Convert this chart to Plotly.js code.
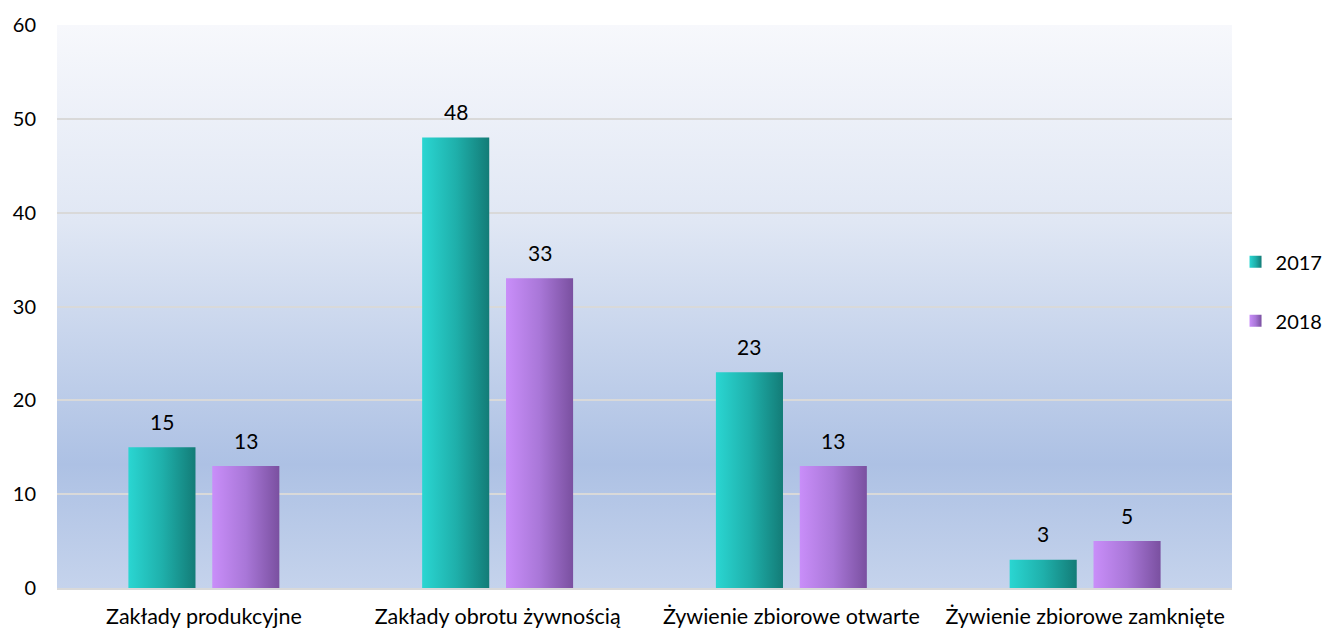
<!DOCTYPE html>
<html>
<head>
<meta charset="utf-8">
<script src="https://cdn.plot.ly/plotly-3.0.1.min.js"></script>
<style>
html,body{margin:0;padding:0;background:#fff;}
#chart{width:1330px;height:631px;}
</style>
</head>
<body>
<div id="chart"></div>
<script>
const categories = ["Zakłady produkcyjne", "Zakłady obrotu żywnością", "Żywienie zbiorowe otwarte", "Żywienie zbiorowe zamknięte"];
const values2017 = [15, 48, 23, 3];
const values2018 = [13, 33, 13, 5];
const seriesNames = ["2017", "2018"];
const yTicks = [0, 10, 20, 30, 40, 50, 60];

const FONT = "Lato, 'Noto Sans', sans-serif";
const FS = 21;

const traces = [
  {
    type: "bar", name: seriesNames[0], x: categories, y: values2017,
    marker: {color: "#1fb0ab"}, legendgroup: "a", hoverinfo: "x+y"
  },
  {
    type: "bar", name: seriesNames[1], x: categories, y: values2018,
    marker: {color: "#a574d6"}, legendgroup: "b", hoverinfo: "x+y"
  }
];

// data labels placed above each bar via annotations (offset left/right for the grouped bars)
const seriesVals = [values2017, values2018];
const xShifts = [-42, 42];
const annotations = [];
seriesVals.forEach((vals, s) => {
  vals.forEach((v, i) => {
    annotations.push({
      x: categories[i], y: v, xref: "x", yref: "y",
      text: String(v), showarrow: false,
      xshift: xShifts[s], yshift: 26, yanchor: "middle", xanchor: "center",
      font: {family: FONT, size: FS, color: "#000"}
    });
  });
});

const layout = {
  width: 1330, height: 631,
  margin: {l: 57, r: 98, t: 25, b: 43, pad: 0, autoexpand: false},
  paper_bgcolor: "#ffffff",
  plot_bgcolor: "#dde5f3",
  font: {family: FONT, size: FS, color: "#000"},
  barmode: "group",
  bargap: 0.429,
  bargroupgap: 0.2,
  showlegend: true,
  annotations: annotations,
  legend: {
    x: 1.003, xanchor: "left", y: 0.527, yanchor: "middle",
    font: {family: FONT, size: 20, color: "#000"},
    tracegroupgap: 30, bgcolor: "rgba(0,0,0,0)", itemwidth: 30
  },
  xaxis: {
    type: "category", showgrid: false, zeroline: false,
    showline: true, linecolor: "#d9d9d9", linewidth: 2,
    ticks: "", ticklabelstandoff: 8,
    tickfont: {family: FONT, size: 21.5, color: "#000"}
  },
  yaxis: {
    range: [0, 60], tickvals: yTicks, ticktext: yTicks.map(String),
    showgrid: true, gridcolor: "#d9d9d9", gridwidth: 2,
    zeroline: false, showline: false, ticks: "",
    ticklabelstandoff: 20,
    tickfont: {family: FONT, size: 20, color: "#000"}
  }
};

function addGradients(gd) {
  const svg = gd.querySelector("svg.main-svg");
  if (!svg) return;
  const NS = "http://www.w3.org/2000/svg";
  let defs = svg.querySelector("defs#customdefs");
  if (!defs) {
    defs = document.createElementNS(NS, "defs");
    defs.setAttribute("id", "customdefs");
    svg.insertBefore(defs, svg.firstChild);
    const mk = (id, stops, vertical) => {
      const g = document.createElementNS(NS, "linearGradient");
      g.setAttribute("id", id);
      g.setAttribute("x1", "0"); g.setAttribute("y1", "0");
      g.setAttribute("x2", vertical ? "0" : "1"); g.setAttribute("y2", vertical ? "1" : "0");
      stops.forEach(s => {
        const st = document.createElementNS(NS, "stop");
        st.setAttribute("offset", s[0]);
        st.setAttribute("stop-color", s[1]);
        g.appendChild(st);
      });
      defs.appendChild(g);
    };
    mk("gTeal", [["0", "#2ad6d2"], ["0.5", "#1fb0ab"], ["1", "#137c77"]], false);
    mk("gPurple", [["0", "#c98ef9"], ["0.5", "#a977d8"], ["1", "#7a50a0"]], false);
    mk("gBg", [["0", "#f7f8fc"], ["0.35", "#e0e7f4"], ["0.78", "#adc1e4"], ["1", "#c5d3ec"]], true);
  }
  const fills = ["url(#gTeal)", "url(#gPurple)"];
  gd.querySelectorAll(".barlayer .trace.bars").forEach((t, i) => {
    t.querySelectorAll(".point path").forEach(p => { p.style.fill = fills[i]; });
  });
  gd.querySelectorAll(".legend .traces").forEach((t, i) => {
    t.querySelectorAll(".legendpoints path").forEach(p => { p.style.fill = fills[i]; p.style.stroke = "none"; });
  });
  const bg = gd.querySelector(".bglayer rect.bg");
  if (bg) bg.style.fill = "url(#gBg)";
}

const gd = document.getElementById("chart");
Plotly.newPlot(gd, traces, layout, {displayModeBar: false, staticPlot: true}).then(() => {
  addGradients(gd);
  gd.on("plotly_afterplot", () => addGradients(gd));
});
</script>
</body>
</html>
